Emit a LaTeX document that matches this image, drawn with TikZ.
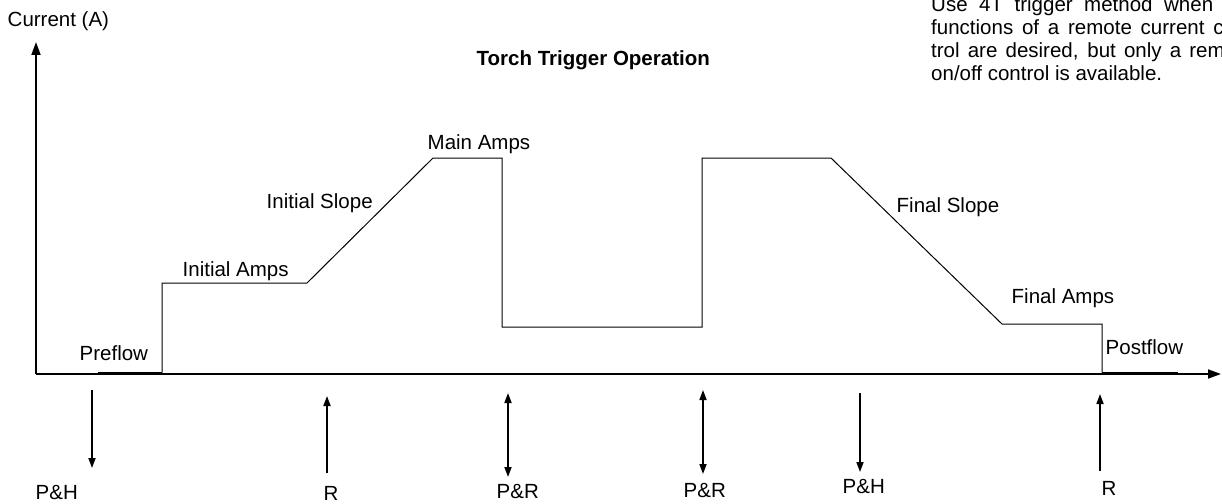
\documentclass[tikz,border=0pt]{standalone}
\usepackage{fontspec}
\setmainfont{Liberation Sans}
\usetikzlibrary{arrows.meta}
\tikzset{trigtip/.tip={Triangle[length=10pt,width=7pt]},
         axistip/.tip={Triangle[length=13pt,width=9pt]}}
\begin{document}
\begin{tikzpicture}[x=1pt,y=-1pt,
  lbl/.style={anchor=base west,inner sep=0pt,font=\fontsize{20.5}{23}\selectfont},
  axisline/.style={line width=1.8pt,-{axistip}},
  wave/.style={line width=1pt,line join=miter},
  flowline/.style={line width=2pt},
  trig/.style={line width=1.7pt}]
\useasboundingbox (0,0) rectangle (1222,503);
\clip (0,0) rectangle (1222,503);

% axes
\coordinate (O) at (36,374);
\coordinate (Ytop) at (36,42);
\coordinate (Xend) at (1221,374);
\draw[axisline] (O) -- (Ytop);
\draw[axisline] (O) -- (Xend);

% waveform
\coordinate (w0) at (98,372.5);
\coordinate (w1) at (162,372.5);
\coordinate (w2) at (162,283);
\coordinate (w3) at (307,283);
\coordinate (w4) at (433,158);
\coordinate (w5) at (502,158);
\coordinate (w6) at (502,327);
\coordinate (w7) at (702,327);
\coordinate (w8) at (702,158);
\coordinate (w9) at (831,158);
\coordinate (w10) at (1002,324);
\coordinate (w11) at (1102,324);
\coordinate (w12) at (1102,372.5);
\coordinate (w13) at (1178,372.5);
\draw[flowline] (w0) -- (w1);
\draw[wave] (w1) -- (w2) -- (w3) -- (w4) -- (w5) -- (w6) -- (w7) -- (w8) -- (w9) -- (w10) -- (w11) -- (w12);
\draw[flowline] (w12) -- (w13);

% trigger arrows
\coordinate (a1s) at (92,390);   \coordinate (a1e) at (92,468);
\coordinate (a2s) at (327,473);  \coordinate (a2e) at (327,396);
\coordinate (a3s) at (508,393);  \coordinate (a3e) at (508,477);
\coordinate (a4s) at (703,390);  \coordinate (a4e) at (703,474);
\coordinate (a5s) at (860,393);  \coordinate (a5e) at (860,472);
\coordinate (a6s) at (1100,471); \coordinate (a6e) at (1100,394);
\draw[trig,-{trigtip}] (a1s) -- (a1e);
\draw[trig,-{trigtip}] (a2s) -- (a2e);
\draw[trig,{trigtip}-{trigtip}] (a3s) -- (a3e);
\draw[trig,{trigtip}-{trigtip}] (a4s) -- (a4e);
\draw[trig,-{trigtip}] (a5s) -- (a5e);
\draw[trig,-{trigtip}] (a6s) -- (a6e);

% labels
\node[lbl] (ylab) at (7.5,27) {Current (A)};
\node[lbl,font=\fontsize{20.5}{23}\selectfont\bfseries] (title) at (476.5,65) {Torch Trigger Operation};
\node[lbl] (mainamps) at (427.5,149) {Main Amps};
\node[lbl] (islope) at (266.5,208) {Initial Slope};
\node[lbl] (iamps) at (182.5,276) {Initial Amps};
\node[lbl] (preflow) at (79.5,360.5) {Preflow};
\node[lbl] (fslope) at (896.5,212) {Final Slope};
\node[lbl] (famps) at (1011.5,303) {Final Amps};
\node[lbl] (postflow) at (1105.5,354) {Postflow};
\node[lbl] (t1) at (35.5,499) {P\&H};
\node[lbl] (t2) at (323.5,500) {R};
\node[lbl] (t3) at (496.5,498) {P\&R};
\node[lbl] (t4) at (683.5,497) {P\&R};
\node[lbl] (t5) at (842.5,493) {P\&H};
\node[lbl] (t6) at (1101.5,495) {R};

% note (cut off at right edge)
\node[lbl] (n1) at (931,11.5) {\makebox[322pt][s]{Use 4T trigger method when the}};
\node[lbl] (n2) at (931,34.5) {\makebox[322pt][s]{functions of a remote current con-}};
\node[lbl] (n3) at (931,57.5) {\makebox[322pt][s]{trol are desired, but only a remote}};
\node[lbl] (n4) at (931,80.5) {on/off control is available.};
\end{tikzpicture}
\end{document}
